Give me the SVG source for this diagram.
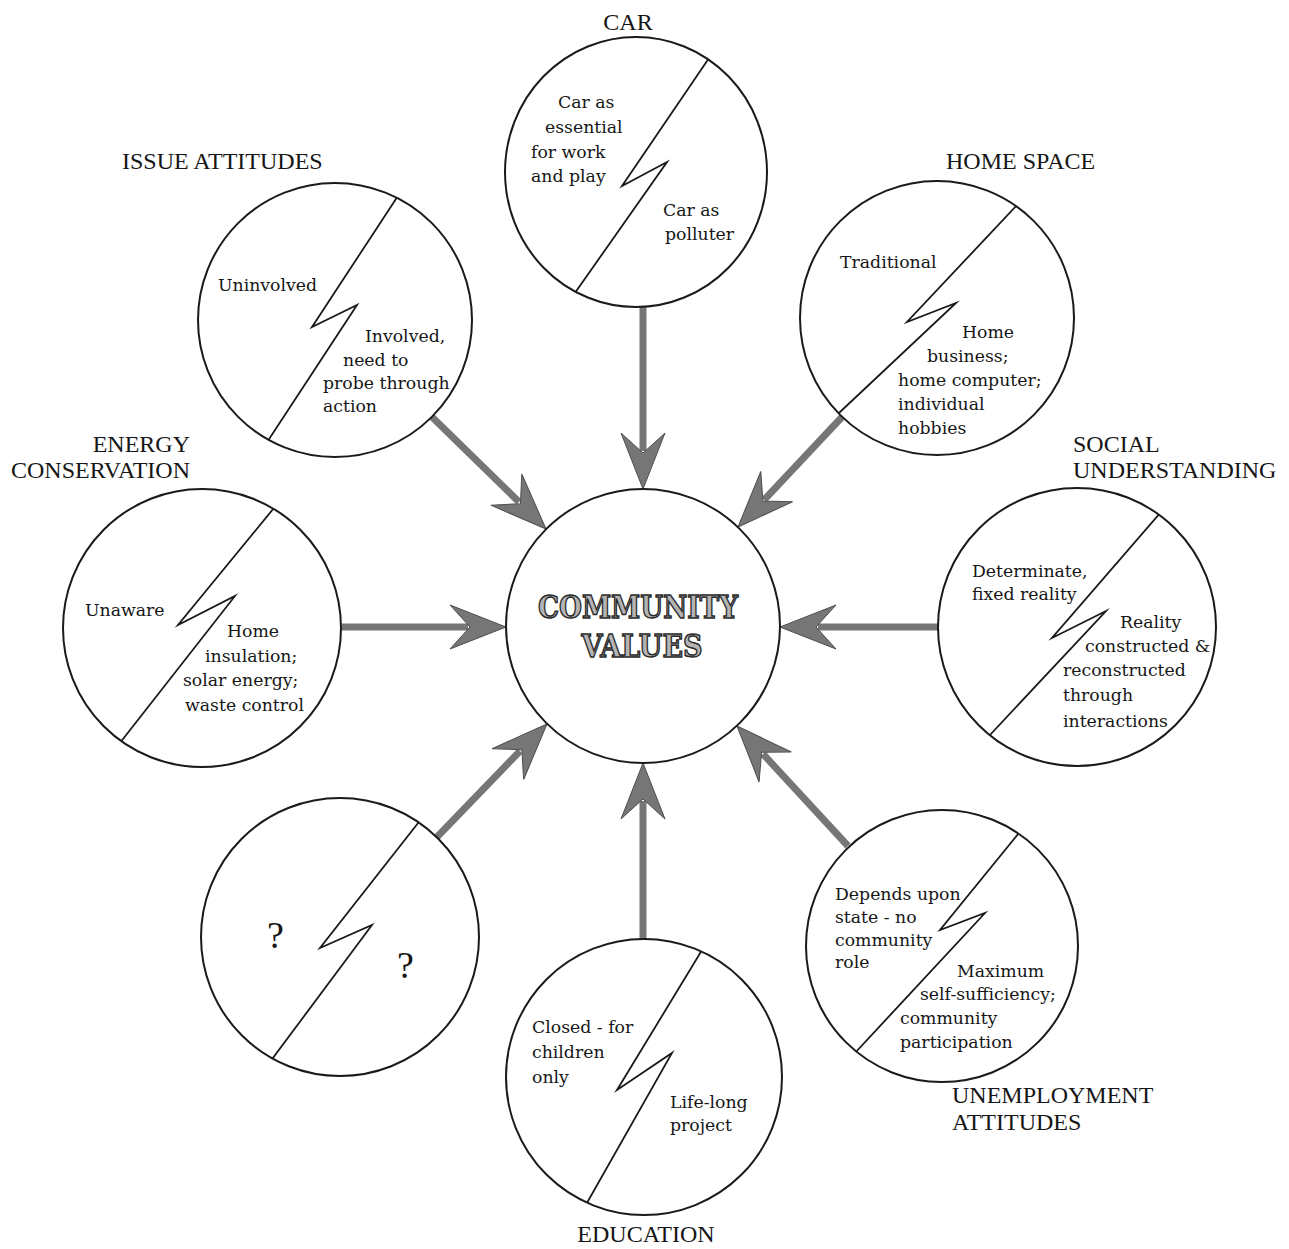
<svg xmlns="http://www.w3.org/2000/svg" xmlns:xlink="http://www.w3.org/1999/xlink" width="1289" height="1249" viewBox="0 0 1289 1249">
<style>
.ring{fill:none;stroke:#1a1a1a;stroke-width:2}
.split{fill:none;stroke:#1a1a1a;stroke-width:1.8;stroke-linejoin:miter;stroke-miterlimit:20}
.t{font-family:"DejaVu Serif",serif;font-size:17.3px;fill:#161616}
.q{font-family:"Liberation Serif",serif;font-size:38px;fill:#161616}
.title{font-family:"Liberation Serif",serif;font-size:24px;fill:#161616}
.big{font-family:"DejaVu Serif",serif;font-size:31px;font-weight:bold;fill:#b4b4b4;stroke:#2a2a2a;stroke-width:1.5}
.shaft{stroke:#767676;stroke-width:7;fill:none}
.head{fill:#767676;stroke:#4e4e4e;stroke-width:1}
</style>
<defs>
<path id="ah" class="head" d="M0,0 L-56,-22 L-36,0 L-56,22 Z"/>
<clipPath id="c-car"><ellipse cx="636" cy="172" rx="131" ry="135"/></clipPath>
<clipPath id="c-issue"><circle cx="335" cy="320" r="137"/></clipPath>
<clipPath id="c-home"><circle cx="937" cy="318" r="137"/></clipPath>
<clipPath id="c-energy"><circle cx="202" cy="628" r="139"/></clipPath>
<clipPath id="c-social"><circle cx="1077" cy="627" r="139"/></clipPath>
<clipPath id="c-q"><circle cx="340" cy="937" r="139"/></clipPath>
<clipPath id="c-unemp"><circle cx="942" cy="946" r="136"/></clipPath>
<clipPath id="c-edu"><circle cx="644" cy="1077" r="138"/></clipPath>
</defs>
<rect width="1289" height="1249" fill="#ffffff"/>

<g id="connectors">
<line class="shaft" x1="643" y1="306" x2="643" y2="451"/>
<use xlink:href="#ah" transform="translate(643,489) rotate(90)"/>
<line class="shaft" x1="432" y1="417" x2="519" y2="502"/>
<use xlink:href="#ah" transform="translate(546,529) rotate(44.8)"/>
<line class="shaft" x1="842" y1="417" x2="764" y2="500"/>
<use xlink:href="#ah" transform="translate(738,527) rotate(133.7)"/>
<line class="shaft" x1="342" y1="627" x2="468" y2="627"/>
<use xlink:href="#ah" transform="translate(506,627)"/>
<line class="shaft" x1="938" y1="627" x2="818" y2="627"/>
<use xlink:href="#ah" transform="translate(780,627) rotate(180)"/>
<line class="shaft" x1="437" y1="837" x2="520" y2="751"/>
<use xlink:href="#ah" transform="translate(547,724) rotate(-45.7)"/>
<line class="shaft" x1="643" y1="939" x2="643" y2="801"/>
<use xlink:href="#ah" transform="translate(643,763) rotate(-90)"/>
<line class="shaft" x1="848" y1="846" x2="763" y2="754"/>
<use xlink:href="#ah" transform="translate(737,726) rotate(-133)"/>
</g>

<g id="community-values">
<circle class="ring" cx="643" cy="626" r="137"/>
<text class="big" x="638" y="618" text-anchor="middle" textLength="200" lengthAdjust="spacingAndGlyphs">COMMUNITY</text>
<text class="big" x="642" y="657" text-anchor="middle" textLength="121" lengthAdjust="spacingAndGlyphs">VALUES</text>
</g>

<g id="car">
<text class="title" x="628" y="30" text-anchor="middle">CAR</text>
<ellipse class="ring" cx="636" cy="172" rx="131" ry="135"/>
<path class="split" clip-path="url(#c-car)" d="M722,39 L622,186 L667,162 L558,317"/>
<text class="t" x="558" y="108">Car as</text>
<text class="t" x="545" y="133">essential</text>
<text class="t" x="531" y="158">for work</text>
<text class="t" x="531" y="182">and play</text>
<text class="t" x="663" y="216">Car as</text>
<text class="t" x="665" y="240">polluter</text>
</g>

<g id="issue-attitudes">
<text class="title" x="122" y="169">ISSUE ATTITUDES</text>
<circle class="ring" cx="335" cy="320" r="137"/>
<path class="split" clip-path="url(#c-issue)" d="M413,173 L312,327 L357,305 L256,459"/>
<text class="t" x="218" y="291">Uninvolved</text>
<text class="t" x="365" y="342">Involved,</text>
<text class="t" x="343" y="366">need to</text>
<text class="t" x="323" y="389">probe through</text>
<text class="t" x="323" y="412">action</text>
</g>

<g id="home-space">
<text class="title" x="946" y="169">HOME SPACE</text>
<circle class="ring" cx="937" cy="318" r="137"/>
<path class="split" clip-path="url(#c-home)" d="M1034,187 L907,322 L956,303 L823,428"/>
<text class="t" x="840" y="268">Traditional</text>
<text class="t" x="962" y="338">Home</text>
<text class="t" x="927" y="362">business;</text>
<text class="t" x="898" y="386">home computer;</text>
<text class="t" x="898" y="410">individual</text>
<text class="t" x="898" y="434">hobbies</text>
</g>

<g id="energy-conservation">
<text class="title" x="190" y="452" text-anchor="end">ENERGY</text>
<text class="title" x="190" y="478" text-anchor="end">CONSERVATION</text>
<circle class="ring" cx="202" cy="628" r="139"/>
<path class="split" clip-path="url(#c-energy)" d="M292,486 L178,625 L235,596 L105,762"/>
<text class="t" x="85" y="616">Unaware</text>
<text class="t" x="227" y="637">Home</text>
<text class="t" x="205" y="662">insulation;</text>
<text class="t" x="183" y="686">solar energy;</text>
<text class="t" x="185" y="711">waste control</text>
</g>

<g id="social-understanding">
<text class="title" x="1073" y="452">SOCIAL</text>
<text class="title" x="1073" y="478">UNDERSTANDING</text>
<circle class="ring" cx="1077" cy="627" r="139"/>
<path class="split" clip-path="url(#c-social)" d="M1174,497 L1052,638 L1106,611 L975,751"/>
<text class="t" x="972" y="577">Determinate,</text>
<text class="t" x="972" y="600">fixed reality</text>
<text class="t" x="1120" y="628">Reality</text>
<text class="t" x="1085" y="652">constructed &amp;</text>
<text class="t" x="1063" y="676">reconstructed</text>
<text class="t" x="1063" y="701">through</text>
<text class="t" x="1063" y="727">interactions</text>
</g>

<g id="unknown">
<circle class="ring" cx="340" cy="937" r="139"/>
<path class="split" clip-path="url(#c-q)" d="M433,804 L320,948 L372,925 L258,1078"/>
<text class="q" x="267" y="948">?</text>
<text class="q" x="397" y="978">?</text>
</g>

<g id="education">
<text class="title" x="646" y="1242" text-anchor="middle">EDUCATION</text>
<circle class="ring" cx="644" cy="1077" r="138"/>
<path class="split" clip-path="url(#c-edu)" d="M713,932 L617,1090 L672,1053 L575,1224"/>
<text class="t" x="532" y="1033">Closed - for</text>
<text class="t" x="532" y="1058">children</text>
<text class="t" x="532" y="1083">only</text>
<text class="t" x="670" y="1108">Life-long</text>
<text class="t" x="670" y="1131">project</text>
</g>

<g id="unemployment-attitudes">
<text class="title" x="952" y="1103">UNEMPLOYMENT</text>
<text class="title" x="952" y="1130">ATTITUDES</text>
<circle class="ring" cx="942" cy="946" r="136"/>
<path class="split" clip-path="url(#c-unemp)" d="M1036,812 L940,930 L985,913 L841,1068"/>
<text class="t" x="835" y="900">Depends upon</text>
<text class="t" x="835" y="923">state - no</text>
<text class="t" x="835" y="946">community</text>
<text class="t" x="835" y="968">role</text>
<text class="t" x="957" y="977">Maximum</text>
<text class="t" x="920" y="1000">self-sufficiency;</text>
<text class="t" x="900" y="1024">community</text>
<text class="t" x="900" y="1048">participation</text>
</g>
</svg>
